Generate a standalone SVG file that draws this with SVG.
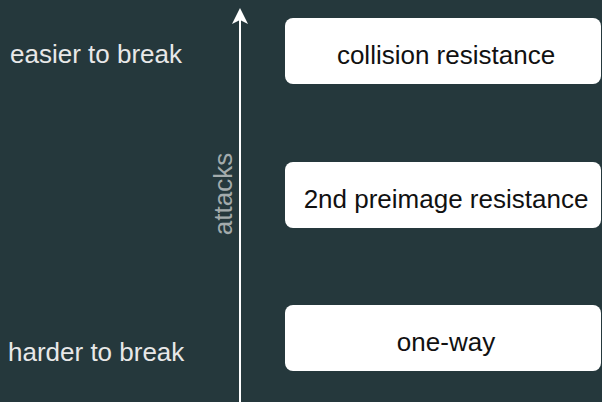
<svg xmlns="http://www.w3.org/2000/svg" width="602" height="402" viewBox="0 0 602 402">
<defs>
<style>
.bg{fill:#25383c}
.box{fill:#ffffff}
.bt{font-family:"Liberation Sans",Arial,sans-serif;font-size:26px;fill:#111111;text-anchor:middle}
.side{font-family:"Liberation Sans",Arial,sans-serif;font-size:26px;fill:#e8e8e8}
.ax{font-family:"Liberation Sans",Arial,sans-serif;font-size:26px;fill:#a3abac;text-anchor:middle}
</style>
<marker id="ah" viewBox="0 0 16 16" refX="8" refY="1" markerWidth="16" markerHeight="16" markerUnits="userSpaceOnUse" orient="auto-start-reverse">
<path d="M8 0 L16 16 L8 12 L0 16 Z" fill="#ffffff"/>
</marker>
</defs>
<rect class="bg" x="0" y="0" width="602" height="402"/>
<g id="connectors">
<line x1="240" y1="402" x2="240" y2="12" stroke="#ffffff" stroke-width="2"/>
<path d="M240 8 L248 24 L240 20 L232 24 Z" fill="#ffffff"/>
</g>
<g id="label-attacks">
<text class="ax" transform="translate(232,194) rotate(-90)">attacks</text>
</g>
<g id="label-easier">
<text class="side" x="10" y="63">easier to break</text>
</g>
<g id="label-harder">
<text class="side" x="8" y="361">harder to break</text>
</g>
<g id="node-collision">
<rect class="box" x="285" y="18" width="316" height="66" rx="8"/>
<text class="bt" x="446" y="64">collision resistance</text>
</g>
<g id="node-preimage">
<rect class="box" x="285" y="162" width="316" height="66" rx="8"/>
<text class="bt" x="446" y="208">2nd preimage resistance</text>
</g>
<g id="node-oneway">
<rect class="box" x="285" y="305" width="316" height="66" rx="8"/>
<text class="bt" x="446" y="351">one-way</text>
</g>
</svg>
